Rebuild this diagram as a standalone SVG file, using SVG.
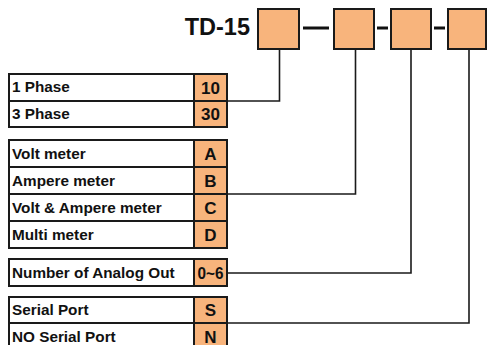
<svg xmlns="http://www.w3.org/2000/svg" width="487" height="345" viewBox="0 0 487 345">
<style>
.box{fill:#fff;stroke:#1a1a1a;stroke-width:2}
.code{fill:#f8b47c;stroke:#1a1a1a;stroke-width:2}
.lbl{font-family:"Liberation Sans",Arial,sans-serif;font-weight:bold;font-size:15.3px;fill:#111}
.c{text-anchor:middle;font-size:17px}
.conn{fill:none;stroke:#1a1a1a;stroke-width:1.6}
.dash{stroke:#111;stroke-width:3}
</style>
<rect width="487" height="345" fill="#fff"/>
<g id="model">
<text x="250" y="35" class="lbl" style="font-size:23.5px;text-anchor:end">TD-15</text>
<rect class="code" x="258" y="9" width="41" height="40"/>
<line class="dash" x1="303" y1="28" x2="329" y2="28"/>
<rect class="code" x="334" y="9" width="40" height="40"/>
<line class="dash" x1="377" y1="28" x2="388" y2="28"/>
<rect class="code" x="391" y="9" width="40" height="40"/>
<line class="dash" x1="434" y1="28" x2="445" y2="28"/>
<rect class="code" x="448" y="9" width="38" height="40"/>
</g>
<g id="phase">
<rect class="box" x="9" y="74" width="185" height="27"/>
<rect class="code" x="194" y="74" width="33" height="27"/>
<rect class="box" x="9" y="101" width="185" height="26"/>
<rect class="code" x="194" y="101" width="33" height="26"/>
<text class="lbl" x="12" y="92">1 Phase</text>
<text class="lbl c" x="210.5" y="93.5">10</text>
<text class="lbl" x="12" y="119">3 Phase</text>
<text class="lbl c" x="210.5" y="120">30</text>
</g>
<g id="meter">
<rect class="box" x="9" y="140" width="185" height="27"/>
<rect class="code" x="194" y="140" width="33" height="27"/>
<rect class="box" x="9" y="167" width="185" height="27"/>
<rect class="code" x="194" y="167" width="33" height="27"/>
<rect class="box" x="9" y="194" width="185" height="27"/>
<rect class="code" x="194" y="194" width="33" height="27"/>
<rect class="box" x="9" y="221" width="185" height="27"/>
<rect class="code" x="194" y="221" width="33" height="27"/>
<text class="lbl" x="12" y="158.5">Volt meter</text>
<text class="lbl c" x="210.5" y="159.5">A</text>
<text class="lbl" x="12" y="185.5">Ampere meter</text>
<text class="lbl c" x="210.5" y="186.5">B</text>
<text class="lbl" x="12" y="212.5">Volt &amp; Ampere meter</text>
<text class="lbl c" x="210.5" y="213.5">C</text>
<text class="lbl" x="12" y="239.5">Multi meter</text>
<text class="lbl c" x="210.5" y="240.5">D</text>
</g>
<g id="analog">
<rect class="box" x="9" y="259" width="185" height="27"/>
<rect class="code" x="194" y="259" width="33" height="27"/>
<text class="lbl" x="12" y="277.5">Number of Analog Out</text>
<text class="lbl c" x="210.5" y="278.5" textLength="26" lengthAdjust="spacingAndGlyphs">0~6</text>
</g>
<g id="serial">
<rect class="box" x="9" y="297" width="185" height="26"/>
<rect class="code" x="194" y="297" width="33" height="26"/>
<rect class="box" x="9" y="323" width="185" height="27"/>
<rect class="code" x="194" y="323" width="33" height="27"/>
<text class="lbl" x="12" y="315">Serial Port</text>
<text class="lbl c" x="210.5" y="316">S</text>
<text class="lbl" x="12" y="341.5">NO Serial Port</text>
<text class="lbl c" x="210.5" y="342.5">N</text>
</g>
<g id="connectors">
<polyline class="conn" points="228,101 279.5,101 279.5,50"/>
<polyline class="conn" points="228,194 355.5,194 355.5,50"/>
<polyline class="conn" points="228,273 411,273 411,50"/>
<polyline class="conn" points="228,323 469,323 469,50"/>
</g>
</svg>
